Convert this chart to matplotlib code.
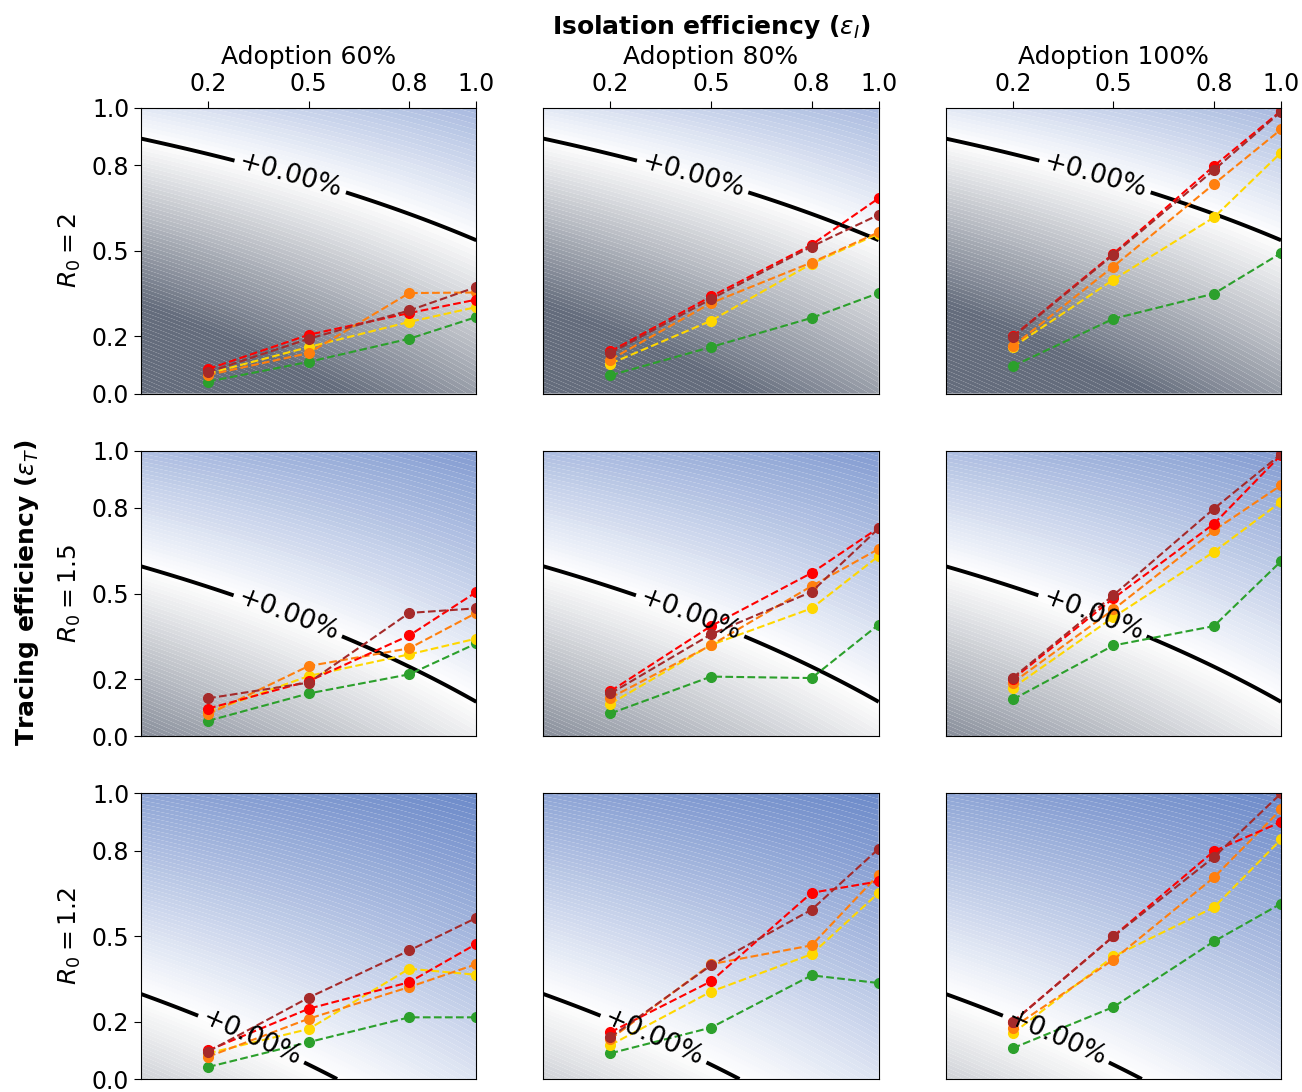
import numpy as np
import matplotlib
matplotlib.use("Agg")
from matplotlib import pyplot as plt
from matplotlib.colors import LinearSegmentedColormap, TwoSlopeNorm

# grid settings
r0_values = [2, 1.5, 1.2]
adoption = [60, 80, 100]
eff_x = [0.2, 0.5, 0.8, 1.0]
ticks = [0.0, 0.2, 0.5, 0.8, 1.0]
colors = ["tab:green", "gold", "tab:orange", "red", "brown"]

# tracing efficiency per series (green, gold, orange, red, brown)
r2_a60 = [[0.042, 0.111, 0.192, 0.268],
          [0.070, 0.163, 0.251, 0.303],
          [0.065, 0.142, 0.352, 0.354],
          [0.086, 0.206, 0.282, 0.329],
          [0.075, 0.192, 0.291, 0.373]]
r2_a80 = [[0.064, 0.163, 0.265, 0.352],
          [0.105, 0.255, 0.455, 0.560],
          [0.119, 0.317, 0.459, 0.565],
          [0.148, 0.340, 0.521, 0.684],
          [0.142, 0.331, 0.515, 0.626]]
r2_a100 = [[0.096, 0.262, 0.350, 0.492],
           [0.163, 0.399, 0.617, 0.844],
           [0.166, 0.445, 0.734, 0.925],
           [0.200, 0.490, 0.797, 0.990],
           [0.198, 0.486, 0.783, 0.987]]
r15_a60 = [[0.054, 0.150, 0.217, 0.325],
           [0.085, 0.211, 0.287, 0.342],
           [0.077, 0.246, 0.308, 0.432],
           [0.097, 0.193, 0.353, 0.505],
           [0.133, 0.188, 0.432, 0.448]]
r15_a80 = [[0.080, 0.209, 0.204, 0.391],
           [0.114, 0.320, 0.448, 0.631],
           [0.135, 0.319, 0.526, 0.656],
           [0.158, 0.386, 0.572, 0.730],
           [0.150, 0.357, 0.506, 0.728]]
r15_a100 = [[0.129, 0.318, 0.386, 0.613],
            [0.170, 0.417, 0.646, 0.821],
            [0.188, 0.444, 0.721, 0.879],
            [0.200, 0.483, 0.744, 0.985],
            [0.205, 0.494, 0.797, 0.988]]
r12_a60 = [[0.042, 0.129, 0.216, 0.216],
           [0.090, 0.175, 0.386, 0.365],
           [0.078, 0.211, 0.322, 0.402],
           [0.100, 0.246, 0.339, 0.473],
           [0.096, 0.285, 0.450, 0.564]]
r12_a80 = [[0.090, 0.180, 0.363, 0.336],
           [0.119, 0.306, 0.437, 0.652],
           [0.140, 0.402, 0.468, 0.716],
           [0.164, 0.342, 0.652, 0.692],
           [0.146, 0.398, 0.593, 0.806]]
r12_a100 = [[0.108, 0.252, 0.482, 0.614],
            [0.160, 0.429, 0.601, 0.839],
            [0.180, 0.418, 0.706, 0.944],
            [0.200, 0.500, 0.798, 0.900],
            [0.199, 0.499, 0.777, 1.000]]

panels = [[r2_a60, r2_a80, r2_a100],
          [r15_a60, r15_a80, r15_a100],
          [r12_a60, r12_a80, r12_a100]]

# where to put the "+0.00%" label on each row
label_pos = [(0.445, 0.76), (0.45, 0.46), (0.33, 0.144)]

cmap = LinearSegmentedColormap.from_list("gw_b", ["#646c7c", "#ffffff", "#5a7bc2"])
norm = TwoSlopeNorm(vmin=-65, vcenter=0, vmax=70)

gx, gy = np.meshgrid(np.linspace(0, 1, 200), np.linspace(0, 1, 200))

fig = plt.figure(figsize=(13.02, 10.92), dpi=100)
fig.subplots_adjust(left=0.1083, right=0.9839, top=0.9011, bottom=0.0119,
                    wspace=0.2, hspace=0.2)

for i, r0 in enumerate(r0_values):
    # relative reduction of the reproduction number
    r_eff = r0 * (1 - 0.285 * gx) * (1 - 0.56 * gy)
    change = (1 - r_eff) * 100
    for j, ad in enumerate(adoption):
        ax = fig.add_subplot(3, 3, i * 3 + j + 1)
        lv = np.linspace(change.min(), change.max(), 90)
        ax.contourf(gx, gy, change, levels=lv, cmap=cmap, norm=norm,
                    antialiased=True)
        cs = ax.contour(gx, gy, change, levels=[0], colors="black",
                        linewidths=2.8)
        ax.clabel(cs, fmt=lambda v: "%+.2f%%" % v, fontsize=19,
                  manual=[label_pos[i]], inline=True)

        for k, series in enumerate(panels[i][j]):
            ax.plot(eff_x, series, "--o", color=colors[k], lw=1.5, ms=7)

        ax.set_xlim(0, 1)
        ax.set_ylim(0, 1)
        if i == 0:
            ax.xaxis.tick_top()
            ax.set_xticks(eff_x)
            ax.set_xticklabels(["0.2", "0.5", "0.8", "1.0"])
            ax.set_title("Adoption %d%%" % ad, fontsize=18, pad=6)
        else:
            ax.set_xticks([])
        if j == 0:
            ax.set_yticks(ticks)
            ax.set_yticklabels(["0.0", "0.2", "0.5", "0.8", "1.0"])
            ax.set_ylabel("$R_0 = %s$" % r0, fontsize=18, labelpad=6)
        else:
            ax.set_yticks([])
        ax.tick_params(labelsize=17, length=5)

fig.text(0.546, 0.975, r"Isolation efficiency ($\varepsilon_I$)",
         fontsize=18, fontweight="bold", ha="center", va="center")
fig.text(0.021, 0.457, r"Tracing efficiency ($\varepsilon_T$)",
         fontsize=18, fontweight="bold", ha="center", va="center",
         rotation=90)

plt.savefig("out.png", dpi=100)
